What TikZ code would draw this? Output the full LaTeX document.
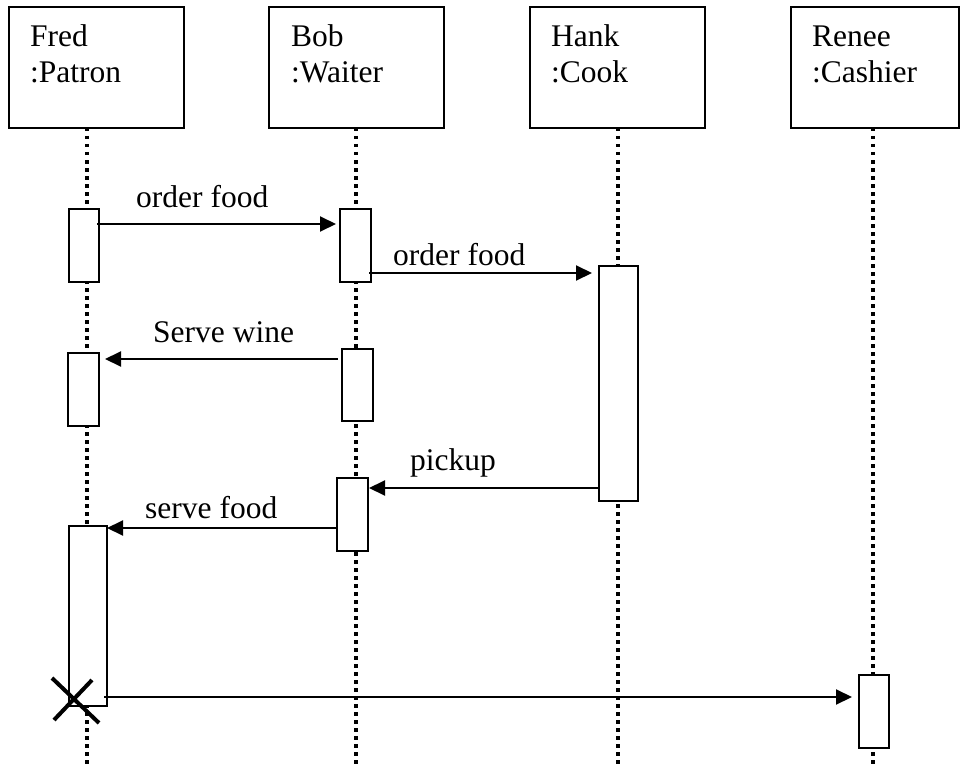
\documentclass[tikz,border=0pt]{standalone}
\usepackage{fontspec}
\setmainfont{Liberation Serif}
\usetikzlibrary{arrows.meta}
\begin{document}
\begin{tikzpicture}[x=1pt,y=-1pt,
  headbox/.style={draw, line width=2pt, minimum width=175pt, minimum height=121pt, inner sep=0pt, outer sep=0pt},
  headtext/.style={anchor=base west, align=left, inner sep=0pt, font=\fontsize{31.5}{36}\selectfont},
  lifeline/.style={line width=3.3pt, dash pattern=on 3.5pt off 4.5pt},
  act/.style={draw, fill=white, line width=2pt, minimum width=30pt, inner sep=0pt, outer sep=0pt},
  msg/.style={line width=2pt, -{Triangle[length=16pt,width=15pt]}},
  msglabel/.style={anchor=base west, inner sep=0pt, font=\fontsize{31.5}{36}\selectfont},
  killmark/.style={line width=4pt},
]
\useasboundingbox (0,0) rectangle (961,765);

% object heads (text anchored on the baseline of the second line)
\node[headbox] (fred) at (96.5,67.5) {};
\node[headbox] (bob) at (356.5,67.5) {};
\node[headbox] (hank) at (617.5,67.5) {};
\node[headbox, minimum width=168pt] (renee) at (875,67.5) {};
\node[headtext] (fredname) at (30,83) {Fred\\:Patron};
\node[headtext] (bobname) at (291,83) {Bob\\:Waiter};
\node[headtext] (hankname) at (551,83) {Hank\\:Cook};
\node[headtext] (reneename) at (812,83) {Renee\\:Cashier};

% lifelines
\coordinate (fredend) at (87,765);
\coordinate (bobend) at (356,765);
\coordinate (hankend) at (618,765);
\coordinate (reneeend) at (873,765);
\draw[lifeline] (fred.south -| fredend) -- (fredend);
\draw[lifeline] (bob.south -| bobend) -- (bobend);
\draw[lifeline] (hank.south -| hankend) -- (hankend);
\draw[lifeline] (renee.south -| reneeend) -- (reneeend);

% activation bars
\node[act, minimum height=73pt] (a1) at (84,245.5) {};
\node[act, minimum width=31pt, minimum height=73pt] (a2) at (83.5,389.5) {};
\node[act, minimum width=38pt, minimum height=180pt] (a3) at (88,616) {};
\node[act, minimum width=31pt, minimum height=73pt] (b1) at (355.5,245.5) {};
\node[act, minimum width=31pt, minimum height=72pt] (b2) at (357.5,385) {};
\node[act, minimum width=31pt, minimum height=73pt] (b3) at (352.5,514.5) {};
\node[act, minimum width=39pt, minimum height=235pt] (h1) at (618.5,383.5) {};
\node[act, minimum height=73pt] (r1) at (874,711.5) {};

% messages
\draw[msg] ([xshift=-2pt,yshift=-15pt]a1.north east) -- ([xshift=-4pt,yshift=-15pt]b1.north west);
\draw[msg] ([xshift=-2pt,yshift=-64pt]b1.north east) -- ([xshift=-7pt,yshift=-7pt]h1.north west);
\draw[msg] ([xshift=-4pt,yshift=-10pt]b2.north west) -- ([xshift=6pt,yshift=-6pt]a2.north east);
\draw[msg] ([yshift=13pt]h1.south west) -- ([xshift=1pt,yshift=-10pt]b3.north east);
\draw[msg] ([yshift=-50pt]b3.north west) -- ([yshift=-2pt]a3.north east);
\draw[msg] ([xshift=-3pt,yshift=9pt]a3.south east) -- ([xshift=-7pt,yshift=-22pt]r1.north west);

\node[msglabel] (l1) at (136,207) {order food};
\node[msglabel] (l2) at (393,265) {order food};
\node[msglabel] (l3) at (153,342) {Serve wine};
\node[msglabel] (l4) at (410,470) {pickup};
\node[msglabel] (l5) at (145,518) {serve food};

% destruction of the patron
\draw[killmark] (52,678) -- (99,723);
\draw[killmark] (92,680) -- (54,720);
\end{tikzpicture}
\end{document}
